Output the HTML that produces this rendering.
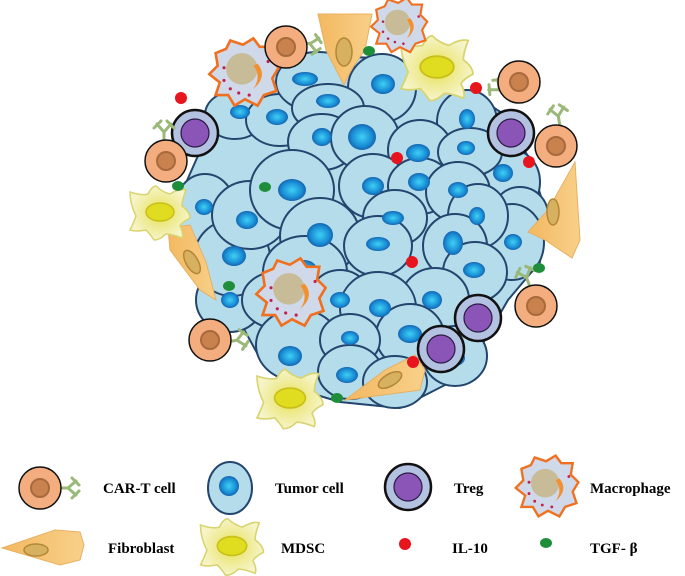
<!DOCTYPE html>
<html><head><meta charset="utf-8"><style>
html,body{margin:0;padding:0;background:#fff;width:685px;height:576px;overflow:hidden}
svg{display:block}
text{font-family:"Liberation Serif",serif;font-weight:bold;font-size:15px;fill:#000}
</style></head><body>
<svg width="685" height="576" viewBox="0 0 685 576" xmlns="http://www.w3.org/2000/svg">
<defs>
<radialGradient id="nuc" cx="50%" cy="50%" r="50%"><stop offset="0" stop-color="#3fd0f5"/><stop offset="0.7" stop-color="#1a8fd6"/><stop offset="1" stop-color="#1565b0"/></radialGradient>
<radialGradient id="md" cx="50%" cy="50%" r="50%"><stop offset="0" stop-color="#e8e040"/><stop offset="0.5" stop-color="#eeea90"/><stop offset="1" stop-color="#f6f4c8"/></radialGradient>
<linearGradient id="fb" x1="0" y1="0" x2="1" y2="0"><stop offset="0" stop-color="#f3b860"/><stop offset="1" stop-color="#f8d08a"/></linearGradient>
<g id="cart"><circle r="21" fill="#f3ad7e" stroke="#111" stroke-width="1.5"/><circle r="9" fill="#c9814e" stroke="#a86a3c" stroke-width="2"/></g>
<g id="ab" stroke="#9ab878" stroke-width="3" fill="none" stroke-linecap="round"><path d="M0 0 L10 0 M10 0 L18 -7 M10 0 L18 7 M14 -10 L21 -3 M14 10 L21 3"/></g>
<g id="treg"><circle r="23" fill="#b4c2e2" stroke="#111" stroke-width="2.5"/><circle r="14" fill="#8a55b6" stroke="#2a1a44" stroke-width="1.2"/></g>
<g id="mac"><path d="M-28 -18 L-18 -22 L-14 -30 L-2 -26 L8 -32 L14 -24 L26 -24 L24 -12 L32 -4 L26 6 L30 18 L18 22 L12 32 L0 26 L-10 32 L-16 22 L-28 22 L-24 10 L-34 2 L-26 -6 Z" fill="#cfd9ea" stroke="#f07020" stroke-width="2.5"/><circle cx="-3" cy="-3" r="15" fill="#c8bc98"/><path d="M12 -8 Q22 4 8 16 Q16 4 8 -6 Z" fill="#f29030"/><g fill="#c02050"><circle cx="-20" cy="-4" r="1.5"/><circle cx="-6" cy="20" r="1.5"/><circle cx="4" cy="22" r="1.5"/><circle cx="-14" cy="16" r="1.5"/><circle cx="22" cy="-10" r="1.5"/><circle cx="-20" cy="8" r="1.5"/></g></g>
<g id="mdsc"><path d="M-30 -20 Q-18 -16 -12 -18 Q-8 -26 -4 -26 Q2 -20 10 -18 Q20 -24 26 -22 Q22 -12 22 -6 Q30 0 30 6 Q22 10 20 14 Q24 22 22 26 Q12 22 6 22 Q0 28 -6 28 Q-10 22 -14 18 Q-24 20 -30 18 Q-26 10 -24 4 Q-30 -8 -30 -20 Z" fill="url(#md)" stroke="#d8d470" stroke-width="1.5"/><ellipse rx="14" ry="9" fill="#e0dc20" stroke="#c8c018" stroke-width="1.5"/></g>
</defs>

<!-- tumor mass background -->
<path d="M185 185 L205 140 L230 98 L275 68 L320 56 L380 58 L420 78 L470 92 L505 115 L530 160 L545 210 L540 262 L508 300 L482 345 L445 385 L400 408 L340 402 L300 390 L262 362 L240 322 L205 300 L188 255 L180 215 Z" fill="#b4dcea" stroke="#23456e" stroke-width="2"/>
<g stroke="#23456e" stroke-width="2" fill="#b4dcea">
<ellipse cx="205" cy="208" rx="30" ry="34"/>
<ellipse cx="230" cy="300" rx="34" ry="32"/>
<ellipse cx="232" cy="258" rx="38" ry="38"/>
<ellipse cx="250" cy="215" rx="38" ry="34"/>
<ellipse cx="235" cy="115" rx="30" ry="24"/>
<ellipse cx="280" cy="120" rx="34" ry="26"/>
<ellipse cx="318" cy="82" rx="42" ry="30"/>
<ellipse cx="382" cy="88" rx="34" ry="34"/>
<ellipse cx="328" cy="108" rx="36" ry="24"/>
<ellipse cx="467" cy="122" rx="30" ry="32"/>
<ellipse cx="512" cy="182" rx="28" ry="32"/>
<ellipse cx="520" cy="215" rx="28" ry="28"/>
<ellipse cx="512" cy="242" rx="32" ry="38"/>
<ellipse cx="322" cy="142" rx="34" ry="28"/>
<ellipse cx="365" cy="138" rx="34" ry="32"/>
<ellipse cx="420" cy="150" rx="32" ry="30"/>
<ellipse cx="470" cy="152" rx="32" ry="24"/>
<ellipse cx="292" cy="190" rx="42" ry="40"/>
<ellipse cx="373" cy="186" rx="34" ry="32"/>
<ellipse cx="420" cy="186" rx="32" ry="28"/>
<ellipse cx="458" cy="192" rx="32" ry="30"/>
<ellipse cx="478" cy="216" rx="30" ry="32"/>
<ellipse cx="395" cy="218" rx="32" ry="28"/>
<ellipse cx="320" cy="236" rx="40" ry="38"/>
<ellipse cx="455" cy="246" rx="32" ry="32"/>
<ellipse cx="378" cy="246" rx="34" ry="30"/>
<ellipse cx="475" cy="272" rx="32" ry="30"/>
<ellipse cx="305" cy="272" rx="42" ry="36"/>
<ellipse cx="276" cy="300" rx="34" ry="28"/>
<ellipse cx="340" cy="302" rx="32" ry="32"/>
<ellipse cx="435" cy="300" rx="34" ry="32"/>
<ellipse cx="378" cy="308" rx="38" ry="36"/>
<ellipse cx="455" cy="356" rx="32" ry="30"/>
<ellipse cx="410" cy="336" rx="34" ry="32"/>
<ellipse cx="298" cy="345" rx="42" ry="36"/>
<ellipse cx="350" cy="340" rx="30" ry="26"/>
<ellipse cx="350" cy="372" rx="32" ry="27"/>
<ellipse cx="395" cy="382" rx="32" ry="26"/>
</g>
<g fill="url(#nuc)">
<ellipse cx="305" cy="79" rx="13" ry="7"/><ellipse cx="383" cy="84" rx="12" ry="10"/><ellipse cx="328" cy="101" rx="12" ry="7"/>
<ellipse cx="277" cy="117" rx="11" ry="8"/><ellipse cx="240" cy="112" rx="10" ry="7"/><ellipse cx="322" cy="137" rx="10" ry="9"/>
<ellipse cx="362" cy="137" rx="14" ry="13"/><ellipse cx="418" cy="153" rx="12" ry="9"/><ellipse cx="467" cy="119" rx="8" ry="10"/>
<ellipse cx="466" cy="148" rx="9" ry="7"/><ellipse cx="419" cy="182" rx="11" ry="9"/><ellipse cx="503" cy="173" rx="10" ry="9"/>
<ellipse cx="292" cy="190" rx="14" ry="11"/><ellipse cx="373" cy="186" rx="11" ry="9"/><ellipse cx="204" cy="207" rx="9" ry="8"/>
<ellipse cx="247" cy="220" rx="11" ry="9"/><ellipse cx="320" cy="235" rx="13" ry="12"/><ellipse cx="393" cy="218" rx="11" ry="7"/>
<ellipse cx="458" cy="190" rx="10" ry="8"/><ellipse cx="477" cy="216" rx="8" ry="9"/><ellipse cx="513" cy="242" rx="9" ry="8"/>
<ellipse cx="453" cy="243" rx="10" ry="12"/><ellipse cx="378" cy="244" rx="12" ry="7"/><ellipse cx="304" cy="270" rx="13" ry="10"/>
<ellipse cx="234" cy="256" rx="12" ry="10"/><ellipse cx="276" cy="298" rx="10" ry="9"/><ellipse cx="380" cy="308" rx="11" ry="9"/>
<ellipse cx="340" cy="300" rx="10" ry="8"/><ellipse cx="474" cy="270" rx="11" ry="8"/><ellipse cx="432" cy="300" rx="10" ry="9"/>
<ellipse cx="410" cy="334" rx="12" ry="9"/><ellipse cx="290" cy="356" rx="12" ry="10"/><ellipse cx="347" cy="375" rx="11" ry="8"/>
<ellipse cx="393" cy="381" rx="10" ry="8"/><ellipse cx="455" cy="358" rx="10" ry="8"/><ellipse cx="230" cy="300" rx="9" ry="8"/>
<ellipse cx="350" cy="338" rx="9" ry="7"/>
</g>

<!-- fibroblasts -->
<path d="M318 14 L372 14 L365 50 Q350 70 344 85 Q336 70 326 50 Z" fill="url(#fb)" stroke="#e8b060" stroke-width="1"/>
<ellipse cx="344" cy="52" rx="8" ry="14" fill="#d7b060" stroke="#b08838" stroke-width="1.5"/>
<path d="M575 162 L548 210 L528 232 L545 240 L572 258 L580 240 Z" fill="url(#fb)" stroke="#e8b060"/>
<ellipse cx="553" cy="212" rx="6" ry="13" fill="#d7b060" stroke="#b08838" stroke-width="1.5"/>
<path d="M168 228 L190 225 L206 262 L216 300 L200 290 L170 250 Z" fill="url(#fb)" stroke="#e8b060"/>
<ellipse cx="192" cy="262" rx="6" ry="13" transform="rotate(-30 192 262)" fill="#d7b060" stroke="#b08838" stroke-width="1.5"/>
<path d="M345 400 L385 370 L415 355 L425 370 L420 390 Z" fill="url(#fb)" stroke="#e8b060"/>
<ellipse cx="390" cy="380" rx="13" ry="6" transform="rotate(-30 390 380)" fill="#d7b060" stroke="#b08838" stroke-width="1.5"/>

<!-- MDSC -->
<use href="#mdsc" transform="translate(437,67) scale(1.2)"/>
<use href="#mdsc" transform="translate(160,212)"/>
<use href="#mdsc" transform="translate(290,398) scale(1.1)"/>

<!-- macrophages -->
<use href="#mac" transform="translate(245,72) scale(1.05)"/>
<use href="#mac" transform="translate(400,25) scale(0.85)"/>
<use href="#mac" transform="translate(292,292) scale(1.05)"/>

<!-- Tregs -->
<use href="#treg" transform="translate(195,133)"/>
<use href="#treg" transform="translate(511,133)"/>
<use href="#treg" transform="translate(478,318)"/>
<use href="#treg" transform="translate(441,349)"/>

<!-- CAR-T -->
<use href="#ab" transform="translate(300,42) rotate(10)"/>
<use href="#ab" transform="translate(507,96) rotate(220)"/>
<use href="#ab" transform="translate(560,126) rotate(-100)"/>
<use href="#ab" transform="translate(164,142) rotate(-90)"/>
<use href="#ab" transform="translate(530,287) rotate(-110)"/>
<use href="#ab" transform="translate(227,342) rotate(-10)"/>
<use href="#cart" transform="translate(286,47)"/>
<use href="#cart" transform="translate(519,82)"/>
<use href="#cart" transform="translate(556,146)"/>
<use href="#cart" transform="translate(166,161)"/>
<use href="#cart" transform="translate(536,306)"/>
<use href="#cart" transform="translate(210,340)"/>

<!-- cytokines -->
<g fill="#e8141e">
<circle cx="181" cy="98" r="6"/><circle cx="476" cy="88" r="6"/><circle cx="397" cy="158" r="6"/>
<circle cx="529" cy="162" r="6"/><circle cx="412" cy="262" r="6"/><circle cx="413" cy="362" r="6"/>
</g>
<g fill="#1e8e3a">
<ellipse cx="369" cy="51" rx="6" ry="5"/><ellipse cx="178" cy="186" rx="6" ry="5"/><ellipse cx="265" cy="187" rx="6" ry="5"/>
<ellipse cx="229" cy="286" rx="6" ry="5"/><ellipse cx="539" cy="268" rx="6" ry="5"/><ellipse cx="337" cy="398" rx="6" ry="5"/>
</g>

<!-- legend -->
<use href="#ab" transform="translate(58,488)"/>
<use href="#cart" transform="translate(40,488)"/>
<text x="103" y="493">CAR-T cell</text>
<ellipse cx="230" cy="488" rx="22" ry="26" fill="#b4dcea" stroke="#23456e" stroke-width="2"/>
<ellipse cx="229" cy="486" rx="10" ry="10" fill="url(#nuc)"/>
<text x="275" y="493">Tumor cell</text>
<use href="#treg" transform="translate(408,487)"/>
<text x="454" y="493">Treg</text>
<use href="#mac" transform="translate(548,486) scale(0.95)"/>
<text x="590" y="493">Macrophage</text>
<path d="M2 548 L55 530 L80 532 L84 545 L80 560 L60 565 Z" fill="url(#fb)" stroke="#e8b060"/>
<ellipse cx="36" cy="550" rx="12" ry="6" fill="#d7b060" stroke="#b08838" stroke-width="1.5"/>
<text x="108" y="553">Fibroblast</text>
<use href="#mdsc" transform="translate(232,546) scale(1.05)"/>
<text x="281" y="553">MDSC</text>
<circle cx="405" cy="544" r="6" fill="#e8141e"/>
<text x="452" y="553">IL-10</text>
<ellipse cx="546" cy="543" rx="6" ry="5" fill="#1e8e3a"/>
<text x="590" y="553">TGF- β</text>
</svg>
</body></html>
